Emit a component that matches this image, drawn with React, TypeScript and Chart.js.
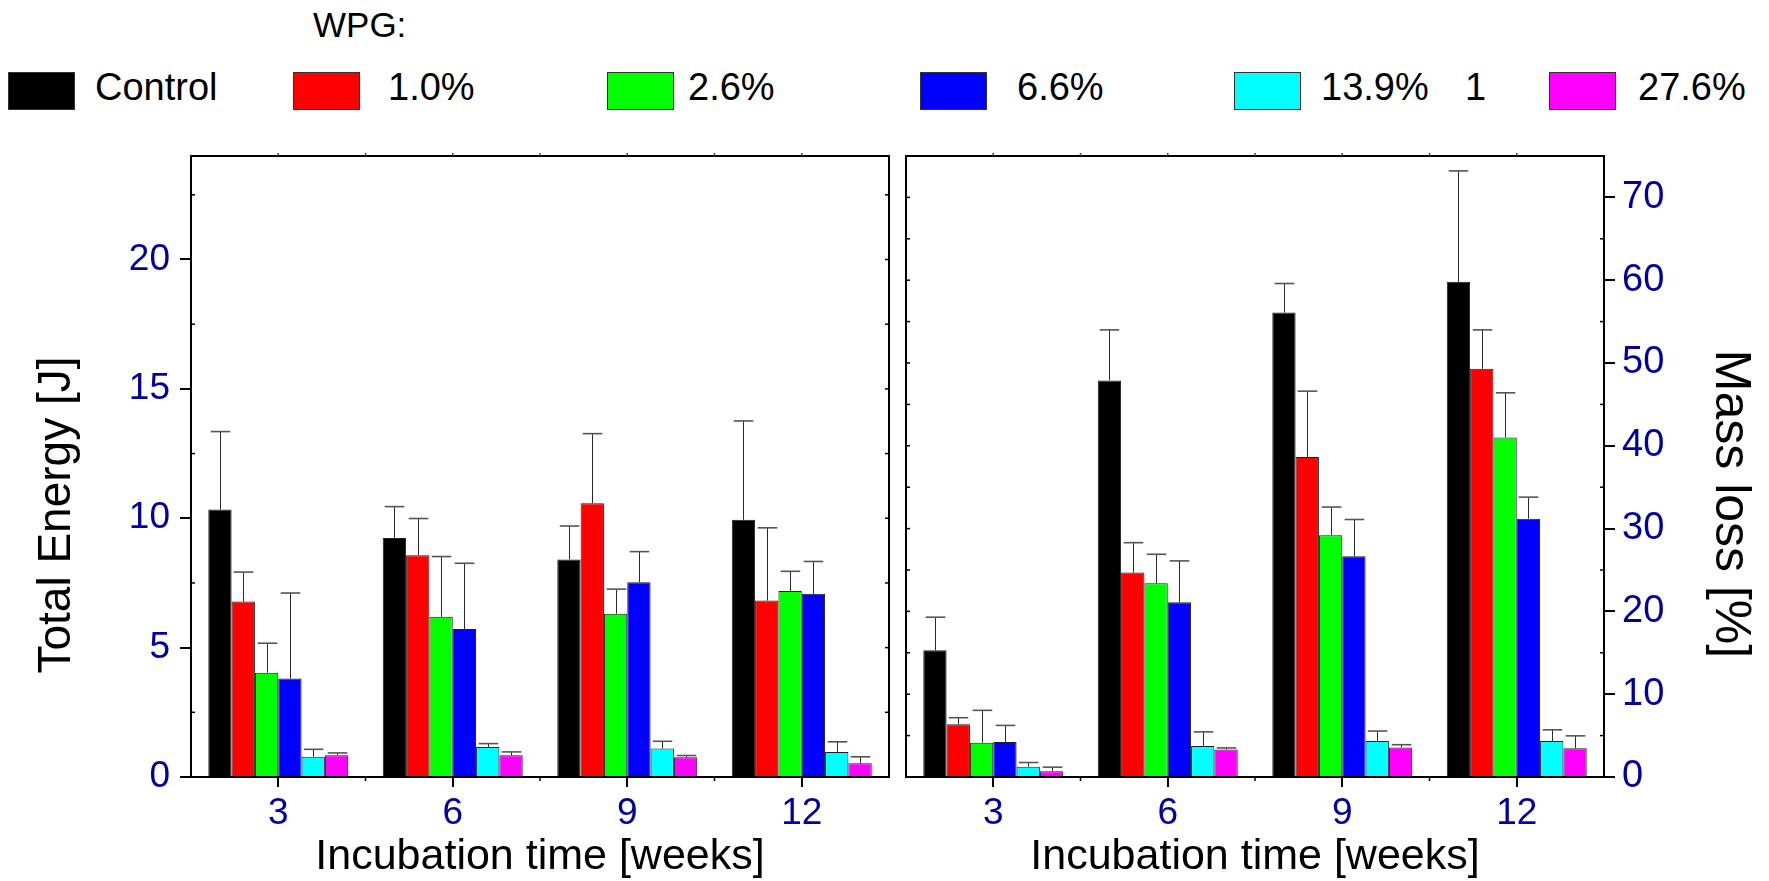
import React, { useEffect, useRef } from 'react';
import { Chart, registerables } from 'chart.js';

Chart.register(...registerables);

// ---------- data ----------
const weeks = ['3', '6', '9', '12'];
const seriesLabels = ['Control', '1.0%', '2.6%', '6.6%', '13.9%', '27.6%'];
const seriesColors = ['#000000', '#FF0000', '#00FF00', '#0000FF', '#00FFFF', '#FF00FF'];

// Total Energy [J]
const energyControl = [10.34, 9.24, 8.41, 9.94];
const energyWpg1_0 = [6.78, 8.57, 10.58, 6.82];
const energyWpg2_6 = [4.03, 6.19, 6.31, 7.19];
const energyWpg6_6 = [3.81, 5.72, 7.53, 7.08];
const energyWpg13_9 = [0.78, 1.16, 1.1, 0.97];
const energyWpg27_6 = [0.84, 0.84, 0.76, 0.53];

const energyErrControl = [3.01, 1.21, 1.29, 3.82];
const energyErrWpg1_0 = [1.14, 1.42, 2.69, 2.81];
const energyErrWpg2_6 = [1.14, 2.33, 0.95, 0.76];
const energyErrWpg6_6 = [3.3, 2.54, 1.18, 1.25];
const energyErrWpg13_9 = [0.29, 0.13, 0.28, 0.39];
const energyErrWpg27_6 = [0.09, 0.13, 0.07, 0.25];

// Mass loss [%]
const massControl = [15.3, 47.9, 56.1, 59.8];
const massWpg1_0 = [6.36, 24.7, 38.65, 49.3];
const massWpg2_6 = [4.15, 23.4, 29.2, 41.0];
const massWpg6_6 = [4.23, 21.1, 26.65, 31.2];
const massWpg13_9 = [1.25, 3.75, 4.35, 4.35];
const massWpg27_6 = [0.69, 3.31, 3.55, 3.47];

const massErrControl = [4.0, 6.1, 3.5, 13.4];
const massErrWpg1_0 = [0.8, 3.6, 7.95, 4.7];
const massErrWpg2_6 = [3.9, 3.5, 3.4, 5.4];
const massErrWpg6_6 = [2.0, 5.0, 4.45, 2.6];
const massErrWpg13_9 = [0.5, 1.7, 1.2, 1.35];
const massErrWpg27_6 = [0.5, 0.2, 0.35, 1.5];

const energyTicks = [0, 5, 10, 15, 20];
const massTicks = [0, 10, 20, 30, 40, 50, 60, 70];

const legendTitle = 'WPG:';
const xTitle = 'Incubation time [weeks]';
const energyTitle = 'Total Energy [J]';
const massTitle = 'Mass loss [%]';

// ---------- style / layout ----------
const FONT = '"Liberation Sans", Arial, Helvetica, sans-serif';
const TICK_BLUE = '#0000A0';

const energySeries = [energyControl, energyWpg1_0, energyWpg2_6, energyWpg6_6, energyWpg13_9, energyWpg27_6];
const energyErrors = [energyErrControl, energyErrWpg1_0, energyErrWpg2_6, energyErrWpg6_6, energyErrWpg13_9, energyErrWpg27_6];
const massSeries = [massControl, massWpg1_0, massWpg2_6, massWpg6_6, massWpg13_9, massWpg27_6];
const massErrors = [massErrControl, massErrWpg1_0, massErrWpg2_6, massErrWpg6_6, massErrWpg13_9, massErrWpg27_6];

const errorBarPlugin = {
  id: 'errorBars',
  afterDatasetsDraw(chart: any, _args: any, opts: any) {
    const errs: number[][] = opts.errors;
    const ctx = chart.ctx;
    const ys = chart.scales.y;
    chart.data.datasets.forEach((ds: any, di: number) => {
      const meta = chart.getDatasetMeta(di);
      meta.data.forEach((bar: any, i: number) => {
        const v = ds.data[i] as number;
        const e = errs[di][i];
        const x = Math.round(bar.x) + 0.5;
        const yTop = ys.getPixelForValue(v + e);
        const yBar = ys.getPixelForValue(v);
        const half = bar.width * 0.42;
        ctx.save();
        ctx.strokeStyle = '#2a2a2a';
        ctx.lineWidth = 1;
        ctx.beginPath();
        ctx.moveTo(x, yBar);
        ctx.lineTo(x, yTop);
        ctx.stroke();
        ctx.strokeStyle = '#555555';
        ctx.lineWidth = 1.6;
        ctx.beginPath();
        ctx.moveTo(x - half, yTop);
        ctx.lineTo(x + half, yTop);
        ctx.stroke();
        ctx.restore();
      });
    });
  },
};

const framePlugin = {
  id: 'frameTicks',
  afterDraw(chart: any, _args: any, opts: any) {
    const { ctx, chartArea } = chart;
    const { left, right, top, bottom } = chartArea;
    const ys = chart.scales.y;
    const xs = chart.scales.x;
    const n = chart.data.labels.length;
    ctx.save();
    ctx.strokeStyle = '#000';
    ctx.lineWidth = 2;
    ctx.strokeRect(left, top, right - left, bottom - top);
    const line = (x1: number, y1: number, x2: number, y2: number) => {
      ctx.beginPath();
      ctx.moveTo(x1, y1);
      ctx.lineTo(x2, y2);
      ctx.stroke();
    };
    ctx.lineWidth = 1.5;
    for (const v of opts.innerLeft as number[]) {
      const py = ys.getPixelForValue(v);
      line(left, py, left + 4, py);
    }
    for (const v of opts.innerRight as number[]) {
      const py = ys.getPixelForValue(v);
      line(right, py, right - 4, py);
    }
    ctx.strokeStyle = '#444';
    for (let k = 0; k <= 2 * (n - 1); k++) {
      const px = xs.getPixelForValue(k / 2);
      line(px, top, px, top - 3);
    }
    ctx.strokeStyle = '#000';
    for (let k = 0; k < n - 1; k++) {
      const px = xs.getPixelForValue(k + 0.5);
      line(px, bottom, px, bottom + 4);
    }
    // vertical axis title
    const t = opts.title;
    ctx.fillStyle = '#000';
    ctx.font = `${t.size}px ${FONT}`;
    ctx.textAlign = 'center';
    ctx.textBaseline = 'middle';
    ctx.translate(t.x, t.y);
    ctx.rotate(t.rotation);
    ctx.fillText(t.text, 0, 0);
    ctx.restore();
  },
};

function buildDatasets(series: number[][]) {
  return series.map((d, i) => ({
    label: seriesLabels[i],
    data: d,
    backgroundColor: seriesColors[i],
    borderColor: '#1e1e1e',
    borderWidth: 1,
    categoryPercentage: 0.802,
    barPercentage: 1.0,
  }));
}

function makeConfig(kind: 'energy' | 'mass'): any {
  const isEnergy = kind === 'energy';
  const range = (a: number, b: number, s: number) => {
    const out: number[] = [];
    for (let v = a; v <= b + 1e-9; v += s) out.push(v);
    return out;
  };
  return {
    type: 'bar',
    data: {
      labels: weeks,
      datasets: buildDatasets(isEnergy ? energySeries : massSeries),
    },
    plugins: [errorBarPlugin, framePlugin],
    options: {
      responsive: false,
      animation: false,
      devicePixelRatio: 1,
      layout: {
        padding: isEnergy
          ? { left: 0, right: 4, top: 16, bottom: 0 }
          : { left: 13, right: 0, top: 16, bottom: 0 },
      },
      plugins: {
        legend: { display: false },
        tooltip: { enabled: false },
        errorBars: { errors: isEnergy ? energyErrors : massErrors },
        frameTicks: isEnergy
          ? {
              innerLeft: range(2.5, 22.5, 5),
              innerRight: range(0, 22.5, 2.5),
              title: { text: energyTitle, size: 46, x: 57.5, y: 375, rotation: -Math.PI / 2 },
            }
          : {
              innerLeft: range(5, 70, 5),
              innerRight: range(5, 75, 10),
              title: { text: massTitle, size: 50, x: 836.5, y: 364, rotation: Math.PI / 2 },
            },
      },
      scales: {
        x: {
          type: 'category',
          offset: true,
          grid: {
            display: true,
            drawOnChartArea: false,
            drawTicks: true,
            tickLength: 10,
            offset: false,
            color: '#000',
            lineWidth: 2,
          },
          border: { display: true, color: '#000', width: 2 },
          ticks: {
            color: TICK_BLUE,
            font: { family: FONT, size: 37 },
            padding: 5,
            maxRotation: 0,
          },
          title: {
            display: true,
            text: xTitle,
            color: '#000',
            font: { family: FONT, size: 43, lineHeight: 1.1 },
            padding: { top: 0, bottom: 0 },
          },
          afterFit: (s: any) => {
            s.height = 104;
            s.paddingLeft = 0;
            s.paddingRight = 0;
          },
        },
        y: {
          type: 'linear',
          position: isEnergy ? 'left' : 'right',
          min: 0,
          max: isEnergy ? 24 : 75,
          afterBuildTicks: (s: any) => {
            s.ticks = (isEnergy ? energyTicks : massTicks).map((v) => ({ value: v }));
          },
          grid: {
            display: true,
            drawOnChartArea: false,
            drawTicks: true,
            tickLength: 11,
            color: '#000',
            lineWidth: 2,
          },
          border: { display: true, color: '#000', width: 2 },
          ticks: {
            color: TICK_BLUE,
            font: { family: FONT, size: isEnergy ? 37 : 38 },
            padding: isEnergy ? 10 : 7,
          },
          afterFit: (s: any) => {
            s.width = isEnergy ? 191 : 165;
            s.paddingTop = 0;
            s.paddingBottom = 0;
          },
        },
      },
    },
  };
}

function Panel({ kind, left, width }: { kind: 'energy' | 'mass'; left: number; width: number }) {
  const ref = useRef<HTMLCanvasElement | null>(null);
  useEffect(() => {
    if (!ref.current) return;
    const chart = new Chart(ref.current, makeConfig(kind));
    return () => chart.destroy();
  }, [kind]);
  return (
    <canvas
      ref={ref}
      width={width}
      height={741}
      style={{ position: 'absolute', left, top: 140, width, height: 741 }}
    />
  );
}

const legendBoxLeft = [8, 293, 607, 920, 1234, 1549];
const legendTextLeft = [95, 388, 688, 1017, 1321, 1638];

export default function App() {
  const textStyle: React.CSSProperties = {
    position: 'absolute',
    fontFamily: FONT,
    fontSize: 38,
    lineHeight: '38px',
    color: '#000',
    whiteSpace: 'nowrap',
  };
  return (
    <div
      style={{
        position: 'absolute',
        left: 0,
        top: 0,
        width: 1769,
        height: 881,
        background: '#fff',
        overflow: 'hidden',
      }}
    >
      <div style={{ ...textStyle, left: 313, top: 7, fontSize: 35, lineHeight: '35px' }}>{legendTitle}</div>
      {seriesLabels.map((lab, i) => (
        <React.Fragment key={lab}>
          <div
            style={{
              position: 'absolute',
              left: legendBoxLeft[i],
              top: 72,
              width: 67,
              height: 38,
              boxSizing: 'border-box',
              background: seriesColors[i],
              border: '1px solid #333',
            }}
          />
          <div style={{ ...textStyle, left: legendTextLeft[i], top: 68 }}>{lab}</div>
        </React.Fragment>
      ))}
      <div style={{ ...textStyle, left: 1465, top: 68 }}>1</div>
      <Panel kind="energy" left={0} width={893} />
      <Panel kind="mass" left={893} width={876} />
    </div>
  );
}
